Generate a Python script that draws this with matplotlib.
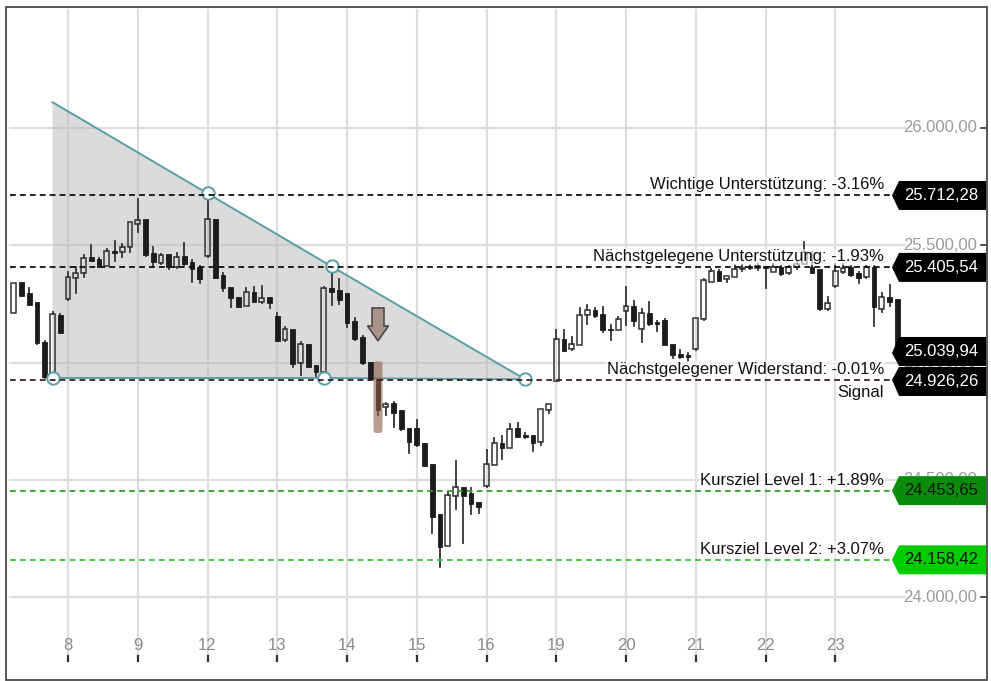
import matplotlib
matplotlib.use("Agg")
import matplotlib.pyplot as plt
from matplotlib.patches import Polygon, Rectangle, FancyBboxPatch

plt.rcParams['font.family'] = ['Liberation Sans', 'DejaVu Sans']

# ---------------- data ----------------
day_labels = ["8", "9", "12", "13", "14", "15", "16", "19", "20", "21", "22", "23"]
candles_per_day = 9
first_index = -7  # first candles belong to the previous session

opens = [25211, 25343, 25296, 25257, 25089, 24955, 25203,
         25270, 25359, 25380, 25449, 25440, 25413, 25475, 25470, 25491,
         25589, 25611, 25466, 25423, 25461, 25409, 25454, 25427, 25409,
         25454, 25612, 25373, 25321, 25279, 25241, 25301, 25260, 25278,
         25198, 25096, 25142, 24997, 25078, 24989, 24961, 25316, 25309,
         25295, 25178, 25110, 25001, 24928, 24809, 24826, 24797, 24719,
         24719, 24655, 24567, 24354, 24219, 24431, 24468, 24442, 24403,
         24473, 24563, 24655, 24637, 24719, 24690, 24690, 24660, 24797,
         24922, 25099, 25056, 25075, 25203, 25224, 25206, 25143, 25139,
         25221, 25241, 25144, 25210, 25174, 25181, 25079, 25036, 25032,
         25056, 25184, 25345, 25391, 25355, 25366, 25398, 25409, 25405,
         25409, 25387, 25409, 25380, 25406, 25420, 25409, 25398, 25227,
         25326, 25387, 25409, 25380, 25363, 25409, 25227, 25278, 25270]
highs = [25340, 25344, 25318, 25259, 25090, 25217, 25205,
         25387, 25409, 25458, 25501, 25444, 25483, 25520, 25505, 25600,
         25696, 25613, 25494, 25462, 25463, 25466, 25508, 25435, 25411,
         25721, 25614, 25380, 25323, 25281, 25316, 25320, 25328, 25280,
         25210, 25152, 25144, 25086, 25080, 24991, 25320, 25405, 25355,
         25297, 25188, 25112, 25003, 24930, 24826, 24830, 24799, 24721,
         24755, 24657, 24569, 24356, 24449, 24580, 24470, 24464, 24405,
         24625, 24677, 24687, 24738, 24741, 24700, 24692, 24802, 24824,
         25139, 25139, 25107, 25231, 25245, 25231, 25238, 25160, 25192,
         25321, 25264, 25227, 25259, 25176, 25185, 25081, 25053, 25040,
         25190, 25354, 25400, 25393, 25371, 25416, 25415, 25415, 25418,
         25412, 25418, 25411, 25410, 25430, 25515, 25470, 25400, 25278,
         25420, 25420, 25411, 25387, 25411, 25411, 25295, 25331, 25272]
lows = [25210, 25283, 25244, 25080, 24934, 24934, 25126,
        25268, 25295, 25366, 25432, 25407, 25411, 25434, 25449, 25473,
        25558, 25454, 25409, 25420, 25397, 25405, 25417, 25345, 25338,
        25452, 25360, 25306, 25238, 25236, 25239, 25258, 25255, 25234,
        25091, 25090, 24982, 24947, 24980, 24944, 24934, 25245, 25249,
        25150, 25097, 24995, 24926, 24776, 24776, 24726, 24713, 24615,
        24646, 24558, 24274, 24129, 24217, 24374, 24229, 24353, 24360,
        24471, 24561, 24587, 24635, 24682, 24680, 24623, 24648, 24783,
        24920, 25048, 25054, 25073, 25164, 25196, 25131, 25096, 25137,
        25160, 25156, 25089, 25162, 25136, 25073, 25018, 25020, 25005,
        25054, 25182, 25343, 25347, 25345, 25364, 25390, 25400, 25395,
        25316, 25385, 25375, 25378, 25400, 25418, 25381, 25225, 25225,
        25324, 25380, 25371, 25338, 25361, 25156, 25217, 25241, 25030]
closes = [25339, 25284, 25245, 25082, 24940, 25207, 25127,
          25363, 25380, 25444, 25434, 25409, 25475, 25468, 25494, 25598,
          25608, 25458, 25427, 25458, 25409, 25451, 25419, 25399, 25357,
          25611, 25362, 25316, 25274, 25238, 25299, 25260, 25277, 25252,
          25093, 25142, 24994, 25078, 24982, 24961, 25316, 25302, 25267,
          25170, 25099, 24997, 24928, 24797, 24822, 24786, 24715, 24662,
          24648, 24560, 24342, 24215, 24435, 24468, 24432, 24395, 24385,
          24566, 24655, 24637, 24716, 24684, 24684, 24655, 24800, 24822,
          25099, 25050, 25079, 25203, 25224, 25198, 25139, 25139, 25184,
          25241, 25178, 25212, 25164, 25164, 25075, 25032, 25022, 25022,
          25188, 25352, 25391, 25349, 25369, 25398, 25405, 25405, 25410,
          25407, 25409, 25377, 25406, 25420, 25470, 25383, 25227, 25252,
          25391, 25402, 25373, 25359, 25409, 25235, 25281, 25260, 25039.94]

level_values = [25712.28, 25405.54, 24926.26, 24453.65, 24158.42]
level_texts = ["Wichtige Unterstützung: -3.16%",
               "Nächstgelegene Unterstützung: -1.93%",
               "Nächstgelegener Widerstand: -0.01%",
               "Kursziel Level 1: +1.89%",
               "Kursziel Level 2: +3.07%"]
level_line_colors = ["#111111", "#111111", "#3a2222", "#2aa52a", "#33cc33"]
level_box_colors = ["#000000", "#000000", "#000000", "#0a8c0a", "#00cc00"]
level_text_colors = ["white", "white", "white", "#111111", "#111111"]
last_price = 25039.94

tri_upper_x = [-2, 18, 34, 59]
tri_upper_y = [26110, 25721, 25410, 24928]
tri_lower_x = [-2, 33, 59]
tri_lower_y = [24934, 24934, 24928]
tri_points_x = [-2, 18, 34, 33, 59]
tri_points_y = [24934, 25721, 25410, 24934, 24928]

signal_index = 40
y_ticks = [24000, 24500, 25000, 25500, 26000]


def de_fmt(v):
    s = f"{v:,.2f}"
    return s.replace(",", "X").replace(".", ",").replace("X", ".")


# ---------------- layout helpers (pixel <-> data) ----------------
W, H = 991, 681
PX_X0, PX_STEP = 68.0, 7.75
PX_YREF, PRICE_REF, PX_PER_PT = 128.0, 26000.0, 0.2345


def X(px):
    return (px - PX_X0) / PX_STEP


def Y(py):
    return PRICE_REF - (py - PX_YREF) / PX_PER_PT


def DX(px):
    return px / PX_STEP


def DY(px):
    return px / PX_PER_PT


fig = plt.figure(figsize=(W / 100, H / 100), dpi=100)
ax = fig.add_axes([0, 0, 1, 1])
ax.set_xlim(X(0), X(W))
ax.set_ylim(Y(H), Y(0))
ax.axis("off")

FS = 12

# grid
day_pos = [i * candles_per_day for i in range(len(day_labels))]
for xp in day_pos:
    ax.plot([xp, xp], [Y(655), Y(10)], color="#dedede", lw=1.6, zorder=0)
for yt in y_ticks:
    ax.plot([X(10), X(905)], [yt, yt], color="#dedede", lw=1.6, zorder=0)
    ax.text(X(977), yt, de_fmt(yt), ha="right", va="center", fontsize=FS,
            color="#9a9a9a", zorder=1)
    ax.plot([X(981), X(986)], [yt, yt], color="#333333", lw=1.2, zorder=1)

# x labels
for xp, lab in zip(day_pos, day_labels):
    ax.text(xp, Y(645), lab, ha="center", va="center", fontsize=FS, color="#8a8a8a")
    ax.plot([xp, xp], [Y(656), Y(661)], color="#333333", lw=1.6)

# triangle
poly_x = tri_upper_x + tri_lower_x[::-1]
poly_y = tri_upper_y + tri_lower_y[::-1]
ax.add_patch(Polygon(list(zip(poly_x, poly_y)), closed=True, facecolor="#b8b8b8",
                     alpha=0.5, edgecolor="none", zorder=1))
ax.plot(tri_upper_x, tri_upper_y, color="#5a9ea7", lw=1.4, zorder=2)
ax.plot(tri_lower_x, tri_lower_y, color="#5a9ea7", lw=1.4, zorder=2)

# candles
bw = DX(4.6)
for k, (o, h, l, c) in enumerate(zip(opens, highs, lows, closes)):
    xi = first_index + k
    up = c > o
    top, bot = max(o, c), min(o, c)
    if top - bot < DY(1.5):
        mid = (top + bot) / 2
        top, bot = mid + DY(0.75), mid - DY(0.75)
    col = "#1c1c1c"
    ax.plot([xi, xi], [top, max(h, top)], color="#333333", lw=1.3, zorder=3)
    ax.plot([xi, xi], [min(l, bot), bot], color="#333333", lw=1.3, zorder=3)
    if up:
        ax.add_patch(Rectangle((xi - bw / 2, bot), bw, top - bot, facecolor="none",
                               edgecolor="#333333", lw=1.1, zorder=4))
    else:
        ax.add_patch(Rectangle((xi - bw / 2, bot), bw, top - bot, facecolor=col,
                               edgecolor=col, lw=0.6, zorder=4))

# circles on triangle
ax.scatter(tri_points_x, tri_points_y, s=80, facecolor="white", edgecolor="#5a9ea7",
           linewidths=1.4, zorder=6)

# signal highlight + arrow
k = signal_index - first_index
so, sh, sl = opens[k], highs[k], lows[k]
hl = FancyBboxPatch((signal_index - DX(4.5), sl - DY(18)), DX(9), (so + DY(18)) - (sl - DY(18)),
                    boxstyle="round,pad=0,rounding_size=%f" % DX(3),
                    mutation_aspect=PX_STEP / PX_PER_PT,
                    facecolor="#8c5a46", alpha=0.6, edgecolor="none", zorder=5)
ax.add_patch(hl)
tip = sh + DY(38)
ax_pts = [(signal_index - DX(6), tip + DY(33)), (signal_index + DX(6), tip + DY(33)),
          (signal_index + DX(6), tip + DY(15)), (signal_index + DX(10.5), tip + DY(15)),
          (signal_index, tip), (signal_index - DX(10.5), tip + DY(15)),
          (signal_index - DX(6), tip + DY(15))]
ax.add_patch(Polygon(ax_pts, closed=True, facecolor="#a8928a", edgecolor="#444444",
                     lw=1.1, zorder=6))

# level lines, labels and boxes
for v, txt, lc in zip(level_values, level_texts, level_line_colors):
    ax.plot([X(10), X(891)], [v, v], color=lc, lw=1.3, linestyle=(0, (3.2, 2.3)), zorder=7)
    ax.text(X(884), v + DY(3), txt, ha="right", va="bottom", fontsize=FS, color="#111111",
            zorder=8, bbox=dict(facecolor="white", alpha=0.6, edgecolor="none", pad=0.5))
ax.text(X(884), level_values[2] - DY(5), "Signal", ha="right", va="top", fontsize=FS,
        color="#111111", zorder=8)

# price boxes
box_vals = level_values + [last_price]
box_cols = level_box_colors + ["#000000"]
box_tcols = level_text_colors + ["white"]
centers = [v for v in box_vals]
order = sorted(range(len(centers)), key=lambda i: centers[i])
for a, b in zip(order[:-1], order[1:]):
    gap = centers[b] - centers[a]
    if gap < DY(30):
        push = (DY(30) - gap) / 2
        centers[a] -= push
        centers[b] += push


def price_box(v, cy, fc, tc):
    hh = DY(14.5)
    pts = [(X(892), v), (X(899), cy + hh), (X(986), cy + hh), (X(986), cy - hh), (X(899), cy - hh)]
    ax.add_patch(Polygon(pts, closed=True, facecolor=fc, edgecolor="none", zorder=9))
    ax.text(X(941), cy, de_fmt(v), ha="center", va="center", fontsize=FS, color=tc, zorder=10)


for v, cy, fc, tc in zip(box_vals, centers, box_cols, box_tcols):
    price_box(v, cy, fc, tc)
cy_res = centers[2]
ax.plot([X(986.5), X(986.5)], [cy_res - DY(14.5), cy_res + DY(14.5)], color="#b03030", lw=1.2, zorder=10)

# frame
fig.add_artist(Rectangle((6 / W, 1 - 680 / H), 981 / W, 673 / H, transform=fig.transFigure,
                         fill=False, edgecolor="#4a4a4a", lw=1.3))

fig.savefig("out.png", dpi=100)
